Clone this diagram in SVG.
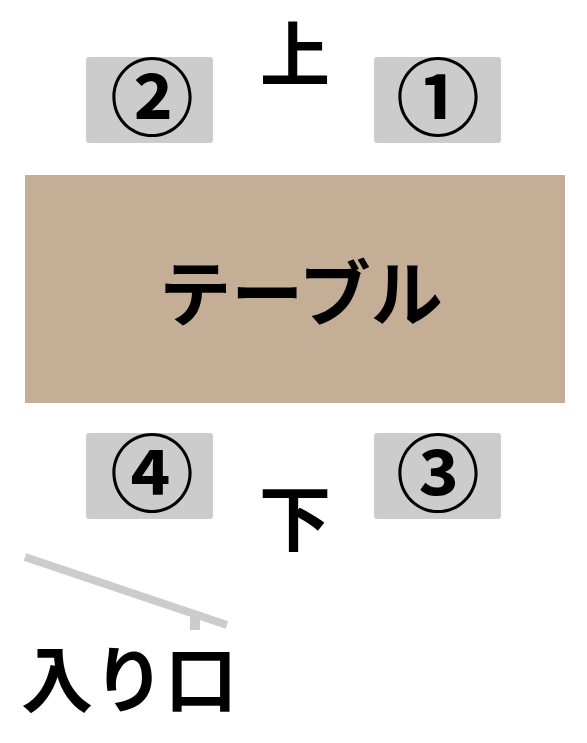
<svg xmlns="http://www.w3.org/2000/svg" width="587" height="743" viewBox="0 0 587 743">
<style>
.seat{fill:#cccccc}
.t{font-family:"Noto Sans CJK JP","Noto Sans",sans-serif;font-weight:bold;fill:#000;text-anchor:middle}
</style>
<rect width="587" height="743" fill="#fff"/>
<g id="table"><rect x="25" y="175" width="540" height="228" fill="#c5ae96"/><text class="t" x="301" y="320" font-size="72">テーブル</text></g>
<g id="seat2"><rect class="seat" x="86" y="57" width="127" height="86" rx="3"/><text class="t" x="152" y="129" font-size="84">②</text></g>
<g id="seat1"><rect class="seat" x="374" y="57" width="127" height="86" rx="3"/><text class="t" x="438" y="129" font-size="84">①</text></g>
<g id="seat4"><rect class="seat" x="86" y="433" width="127" height="86" rx="3"/><text class="t" x="152" y="505" font-size="84">④</text></g>
<g id="seat3"><rect class="seat" x="374" y="433" width="127" height="86" rx="3"/><text class="t" x="438" y="505" font-size="84">③</text></g>
<g id="up"><text class="t" x="295" y="81" font-size="70">上</text></g>
<g id="down"><text class="t" x="295" y="545" font-size="72">下</text></g>
<g id="door"><line x1="25" y1="557" x2="227" y2="625" stroke="#cccccc" stroke-width="8"/><line x1="195" y1="615" x2="195" y2="630" stroke="#cccccc" stroke-width="10"/></g>
<g id="entrance"><text class="t" x="129" y="706" font-size="72">入り口</text></g>
<g id="connectors"/>
</svg>
